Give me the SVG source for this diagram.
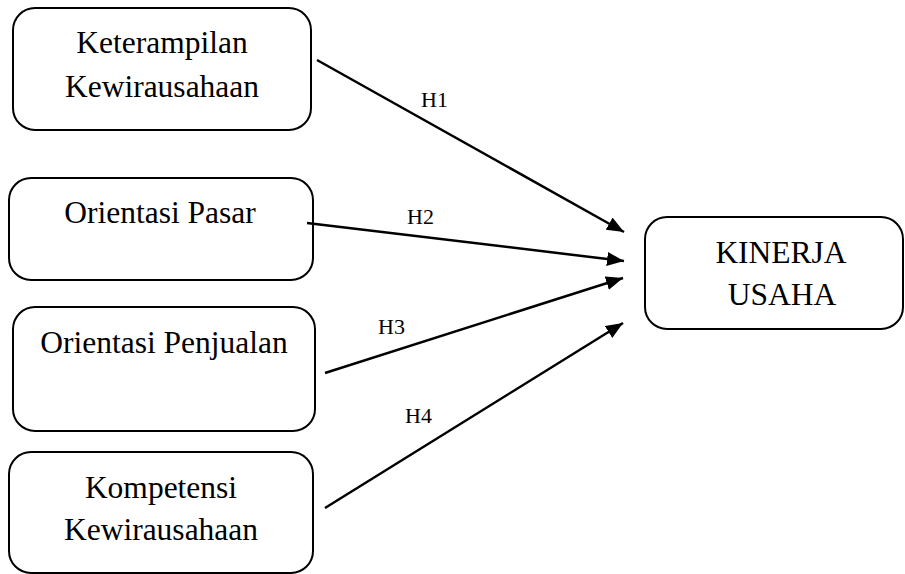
<svg xmlns="http://www.w3.org/2000/svg" width="905" height="574" viewBox="0 0 905 574">
<style>
.box{fill:#fff;stroke:#000;stroke-width:2}
.t{font-family:"Liberation Serif","Times New Roman",serif;font-size:31.5px;fill:#000;text-anchor:middle}
.l{font-family:"Liberation Serif","Times New Roman",serif;font-size:22px;fill:#000}
.c{stroke:#000;stroke-width:2.5;fill:none;marker-end:url(#ah)}
</style>
<defs>
<marker id="ah" markerUnits="userSpaceOnUse" markerWidth="18" markerHeight="14" refX="17" refY="7" orient="auto">
<path d="M0,0 L17,7 L0,14 z" fill="#000"/>
</marker>
</defs>
<rect width="905" height="574" fill="#fff"/>
<g id="n1">
<rect class="box" x="13" y="8" width="298" height="122" rx="22"/>
<text class="t" x="162" y="53">Keterampilan</text>
<text class="t" x="162" y="97">Kewirausahaan</text>
</g>
<g id="n2">
<rect class="box" x="9" y="178" width="304" height="102" rx="22"/>
<text class="t" x="160" y="223">Orientasi Pasar</text>
</g>
<g id="n3">
<rect class="box" x="13" y="307" width="302" height="124" rx="22"/>
<text class="t" x="164" y="353">Orientasi Penjualan</text>
</g>
<g id="n4">
<rect class="box" x="9" y="452" width="304" height="121" rx="22"/>
<text class="t" x="161" y="498">Kompetensi</text>
<text class="t" x="161" y="540">Kewirausahaan</text>
</g>
<g id="n5">
<rect class="box" x="645" y="217" width="258" height="112" rx="22"/>
<text class="t" x="781" y="263">KINERJA</text>
<text class="t" x="782" y="305">USAHA</text>
</g>
<g id="connectors">
<line class="c" x1="317" y1="60" x2="624" y2="232"/>
<line class="c" x1="307" y1="223" x2="624" y2="261"/>
<line class="c" x1="325" y1="373" x2="623" y2="278"/>
<line class="c" x1="325" y1="508" x2="623" y2="323"/>
<text class="l" x="421" y="107">H1</text>
<text class="l" x="407" y="224">H2</text>
<text class="l" x="378" y="334">H3</text>
<text class="l" x="405" y="423">H4</text>
</g>
</svg>
